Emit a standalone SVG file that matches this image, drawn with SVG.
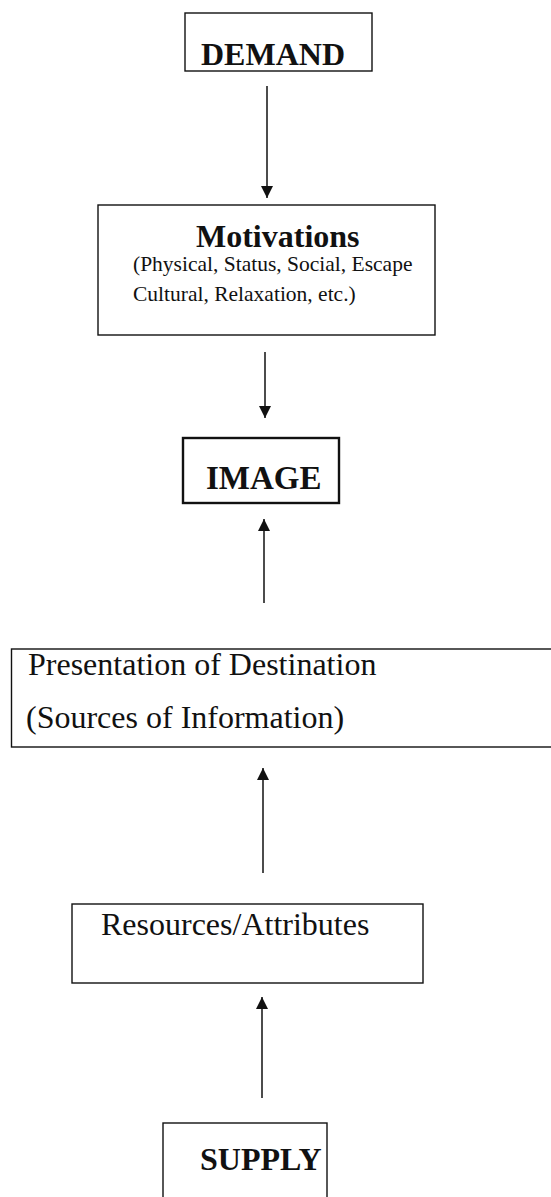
<svg xmlns="http://www.w3.org/2000/svg" width="551" height="1197" viewBox="0 0 551 1197">
  <style>
    .box { fill: #ffffff; stroke: #111111; stroke-width: 1.4; }
    .box-strong { fill: #ffffff; stroke: #111111; stroke-width: 2.4; }
    .title { font-family: "Liberation Serif", "Times New Roman", serif; font-weight: bold; fill: #111111; }
    .label { font-family: "Liberation Serif", "Times New Roman", serif; fill: #111111; }
    .conn { stroke: #111111; stroke-width: 1.5; fill: none; marker-end: url(#head); }
  </style>
  <defs>
    <marker id="head" markerUnits="userSpaceOnUse" markerWidth="12" markerHeight="12" refX="12" refY="6" orient="auto">
      <path d="M0,0 L12,6 L0,12 Z" fill="#111111"/>
    </marker>
  </defs>
  <rect width="551" height="1197" fill="#ffffff"/>

  <g id="demand">
    <rect class="box" x="185" y="13" width="187" height="58"/>
    <text class="title" x="201" y="65" font-size="32">DEMAND</text>
  </g>

  <g id="motivations">
    <rect class="box" x="98" y="205" width="337" height="130"/>
    <text class="title" x="196" y="247" font-size="32">Motivations</text>
    <text class="label" x="133" y="271" font-size="21.5">(Physical, Status, Social, Escape</text>
    <text class="label" x="133" y="301" font-size="21.5">Cultural, Relaxation, etc.)</text>
  </g>

  <g id="image">
    <rect class="box-strong" x="183" y="438" width="156" height="65"/>
    <text class="title" x="206" y="489" font-size="33">IMAGE</text>
  </g>

  <g id="presentation">
    <rect class="box" x="11.5" y="649" width="560" height="98"/>
    <text class="label" x="28" y="675" font-size="32">Presentation of Destination</text>
    <text class="label" x="26" y="728" font-size="32">(Sources of Information)</text>
  </g>

  <g id="resources">
    <rect class="box" x="72" y="904" width="351" height="79"/>
    <text class="label" x="101" y="935" font-size="32">Resources/Attributes</text>
  </g>

  <g id="supply">
    <rect class="box" x="163" y="1123" width="164" height="90"/>
    <text class="title" x="200" y="1170" font-size="32">SUPPLY</text>
  </g>

  <g id="connectors">
    <line class="conn" x1="267" y1="86" x2="267" y2="198"/>
    <line class="conn" x1="265" y1="352" x2="265" y2="418"/>
    <line class="conn" x1="264" y1="603" x2="264" y2="519"/>
    <line class="conn" x1="263" y1="873" x2="263" y2="768"/>
    <line class="conn" x1="262" y1="1098" x2="262" y2="997"/>
  </g>
</svg>
